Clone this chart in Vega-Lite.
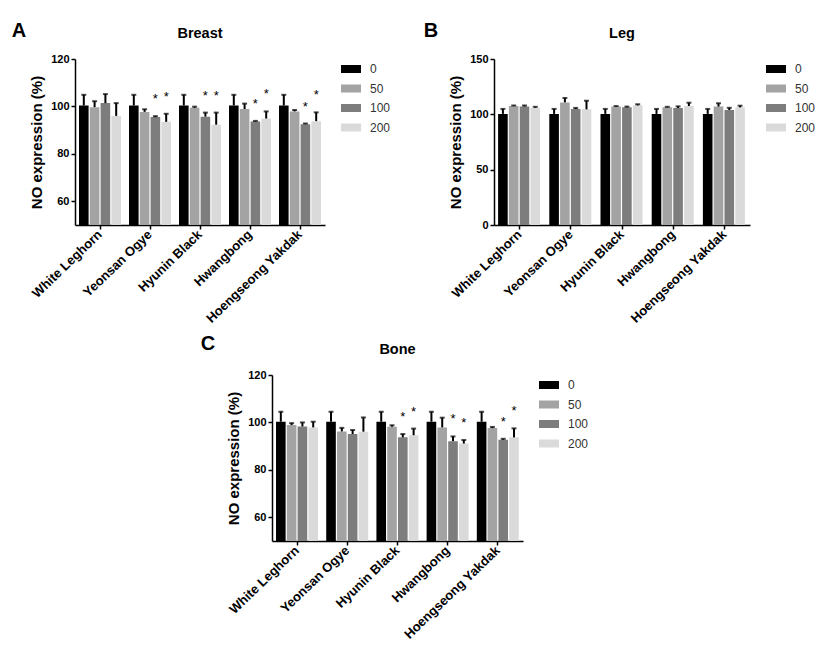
{
  "$schema": "https://vega.github.io/schema/vega-lite/v6.json",
  "padding": {"left": 11, "top": 20, "right": 5, "bottom": 5},
  "datasets": {
    "d": [
      {"panel": "Breast", "breed": "White Leghorn", "conc": "0", "value": 100.4, "err": 4.5, "star": 0},
      {"panel": "Breast", "breed": "White Leghorn", "conc": "50", "value": 99.7, "err": 2.5, "star": 0},
      {"panel": "Breast", "breed": "White Leghorn", "conc": "100", "value": 101.4, "err": 3.8, "star": 0},
      {"panel": "Breast", "breed": "White Leghorn", "conc": "200", "value": 96.0, "err": 5.4, "star": 0},
      {"panel": "Breast", "breed": "Yeonsan Ogye", "conc": "0", "value": 100.4, "err": 4.5, "star": 0},
      {"panel": "Breast", "breed": "Yeonsan Ogye", "conc": "50", "value": 97.7, "err": 1.1, "star": 0},
      {"panel": "Breast", "breed": "Yeonsan Ogye", "conc": "100", "value": 95.5, "err": 0.4, "star": 1},
      {"panel": "Breast", "breed": "Yeonsan Ogye", "conc": "200", "value": 93.5, "err": 3.4, "star": 1},
      {"panel": "Breast", "breed": "Hyunin Black", "conc": "0", "value": 100.4, "err": 4.5, "star": 0},
      {"panel": "Breast", "breed": "Hyunin Black", "conc": "50", "value": 99.4, "err": 0.5, "star": 0},
      {"panel": "Breast", "breed": "Hyunin Black", "conc": "100", "value": 95.7, "err": 1.7, "star": 1},
      {"panel": "Breast", "breed": "Hyunin Black", "conc": "200", "value": 92.3, "err": 5.1, "star": 1},
      {"panel": "Breast", "breed": "Hwangbong", "conc": "0", "value": 100.4, "err": 4.5, "star": 0},
      {"panel": "Breast", "breed": "Hwangbong", "conc": "50", "value": 98.9, "err": 2.3, "star": 0},
      {"panel": "Breast", "breed": "Hwangbong", "conc": "100", "value": 93.6, "err": 0.3, "star": 1},
      {"panel": "Breast", "breed": "Hwangbong", "conc": "200", "value": 94.9, "err": 3.0, "star": 1},
      {"panel": "Breast", "breed": "Hoengseong Yakdak", "conc": "0", "value": 100.4, "err": 4.5, "star": 0},
      {"panel": "Breast", "breed": "Hoengseong Yakdak", "conc": "50", "value": 97.9, "err": 0.6, "star": 0},
      {"panel": "Breast", "breed": "Hoengseong Yakdak", "conc": "100", "value": 92.5, "err": 0.3, "star": 1},
      {"panel": "Breast", "breed": "Hoengseong Yakdak", "conc": "200", "value": 93.8, "err": 3.7, "star": 1},
      {"panel": "Leg", "breed": "White Leghorn", "conc": "0", "value": 100.4, "err": 4.5, "star": 0},
      {"panel": "Leg", "breed": "White Leghorn", "conc": "50", "value": 107.5, "err": 0.5, "star": 0},
      {"panel": "Leg", "breed": "White Leghorn", "conc": "100", "value": 107.0, "err": 1.0, "star": 0},
      {"panel": "Leg", "breed": "White Leghorn", "conc": "200", "value": 106.0, "err": 0.8, "star": 0},
      {"panel": "Leg", "breed": "Yeonsan Ogye", "conc": "0", "value": 100.4, "err": 4.5, "star": 0},
      {"panel": "Leg", "breed": "Yeonsan Ogye", "conc": "50", "value": 110.8, "err": 4.0, "star": 0},
      {"panel": "Leg", "breed": "Yeonsan Ogye", "conc": "100", "value": 104.8, "err": 1.0, "star": 0},
      {"panel": "Leg", "breed": "Yeonsan Ogye", "conc": "200", "value": 104.5, "err": 7.8, "star": 0},
      {"panel": "Leg", "breed": "Hyunin Black", "conc": "0", "value": 100.4, "err": 4.5, "star": 0},
      {"panel": "Leg", "breed": "Hyunin Black", "conc": "50", "value": 107.0, "err": 0.5, "star": 0},
      {"panel": "Leg", "breed": "Hyunin Black", "conc": "100", "value": 106.3, "err": 0.7, "star": 0},
      {"panel": "Leg", "breed": "Hyunin Black", "conc": "200", "value": 108.1, "err": 1.0, "star": 0},
      {"panel": "Leg", "breed": "Hwangbong", "conc": "0", "value": 100.4, "err": 4.5, "star": 0},
      {"panel": "Leg", "breed": "Hwangbong", "conc": "50", "value": 106.3, "err": 0.5, "star": 0},
      {"panel": "Leg", "breed": "Hwangbong", "conc": "100", "value": 105.7, "err": 1.5, "star": 0},
      {"panel": "Leg", "breed": "Hwangbong", "conc": "200", "value": 107.5, "err": 3.0, "star": 0},
      {"panel": "Leg", "breed": "Hoengseong Yakdak", "conc": "0", "value": 100.4, "err": 4.5, "star": 0},
      {"panel": "Leg", "breed": "Hoengseong Yakdak", "conc": "50", "value": 107.0, "err": 3.0, "star": 0},
      {"panel": "Leg", "breed": "Hoengseong Yakdak", "conc": "100", "value": 103.9, "err": 2.0, "star": 0},
      {"panel": "Leg", "breed": "Hoengseong Yakdak", "conc": "200", "value": 106.3, "err": 1.5, "star": 0},
      {"panel": "Bone", "breed": "White Leghorn", "conc": "0", "value": 100.3, "err": 4.2, "star": 0},
      {"panel": "Bone", "breed": "White Leghorn", "conc": "50", "value": 98.9, "err": 0.8, "star": 0},
      {"panel": "Bone", "breed": "White Leghorn", "conc": "100", "value": 98.3, "err": 1.7, "star": 0},
      {"panel": "Bone", "breed": "White Leghorn", "conc": "200", "value": 97.9, "err": 2.4, "star": 0},
      {"panel": "Bone", "breed": "Yeonsan Ogye", "conc": "0", "value": 100.3, "err": 4.2, "star": 0},
      {"panel": "Bone", "breed": "Yeonsan Ogye", "conc": "50", "value": 96.2, "err": 1.5, "star": 0},
      {"panel": "Bone", "breed": "Yeonsan Ogye", "conc": "100", "value": 95.1, "err": 1.7, "star": 0},
      {"panel": "Bone", "breed": "Yeonsan Ogye", "conc": "200", "value": 96.1, "err": 6.0, "star": 0},
      {"panel": "Bone", "breed": "Hyunin Black", "conc": "0", "value": 100.3, "err": 4.2, "star": 0},
      {"panel": "Bone", "breed": "Hyunin Black", "conc": "50", "value": 98.2, "err": 0.6, "star": 0},
      {"panel": "Bone", "breed": "Hyunin Black", "conc": "100", "value": 93.7, "err": 1.4, "star": 1},
      {"panel": "Bone", "breed": "Hyunin Black", "conc": "200", "value": 94.6, "err": 2.8, "star": 1},
      {"panel": "Bone", "breed": "Hwangbong", "conc": "0", "value": 100.3, "err": 4.2, "star": 0},
      {"panel": "Bone", "breed": "Hwangbong", "conc": "50", "value": 97.9, "err": 4.1, "star": 0},
      {"panel": "Bone", "breed": "Hwangbong", "conc": "100", "value": 92.1, "err": 2.0, "star": 1},
      {"panel": "Bone", "breed": "Hwangbong", "conc": "200", "value": 91.1, "err": 1.5, "star": 1},
      {"panel": "Bone", "breed": "Hoengseong Yakdak", "conc": "0", "value": 100.3, "err": 4.2, "star": 0},
      {"panel": "Bone", "breed": "Hoengseong Yakdak", "conc": "50", "value": 97.6, "err": 0.5, "star": 0},
      {"panel": "Bone", "breed": "Hoengseong Yakdak", "conc": "100", "value": 92.7, "err": 0.4, "star": 1},
      {"panel": "Bone", "breed": "Hoengseong Yakdak", "conc": "200", "value": 93.7, "err": 3.8, "star": 1}
    ]
  },
  "spacing": 7,
  "resolve": {"scale": {"color": "independent"}, "legend": {"color": "independent"}},
  "vconcat": [
    {
      "spacing": 32,
      "resolve": {"scale": {"color": "independent"}, "legend": {"color": "independent"}},
      "hconcat": [
        {
          "title": {"text": "A", "anchor": "start", "fontSize": 20, "fontWeight": "bold", "offset": -15, "dx": -18},
          "resolve": {"scale": {"color": "independent"}, "legend": {"color": "independent"}},
          "vconcat": [
            {
              "data": {"name": "d"},
              "title": {"text": "Breast", "frame": "group", "fontSize": 14.5, "fontWeight": "bold", "offset": 12},
              "width": 250, "height": 166,
              "transform": [{"filter": "datum.panel == 'Breast'"}, {"calculate": "datum.value + datum.err", "as": "hi"}],
              "encoding": {
                "x": {"field": "breed", "type": "nominal", "sort": ["White Leghorn", "Yeonsan Ogye", "Hyunin Black", "Hwangbong", "Hoengseong Yakdak"], "scale": {"paddingInner": 0.16, "paddingOuter": 0.08}, "axis": {"title": null}},
                "xOffset": {"field": "conc", "type": "nominal", "sort": ["0", "50", "100", "200"], "scale": {"paddingInner": 0.11}}
              },
              "layer": [
                {"mark": {"type": "bar", "clip": true},
                 "encoding": {
                   "y": {"field": "value", "type": "quantitative", "scale": {"domain": [50, 120], "nice": false}, "axis": {"values": [60, 80, 100, 120], "title": "NO expression (%)"}},
                   "color": {"field": "conc", "type": "nominal", "sort": ["0", "50", "100", "200"], "scale": {"domain": ["0", "50", "100", "200"], "range": ["#000000", "#a3a3a3", "#7d7d7d", "#dadada"]}, "legend": {"title": null}}
                 }},
                {"mark": {"type": "rule", "strokeWidth": 2, "color": "#000"}, "encoding": {"y": {"field": "value", "type": "quantitative"}, "y2": {"field": "hi"}}},
                {"mark": {"type": "tick", "thickness": 2, "size": 5, "color": "#000"}, "encoding": {"y": {"field": "hi", "type": "quantitative"}}},
                {"transform": [{"filter": "datum.star == 1"}], "mark": {"type": "text", "text": "*", "dy": -17, "fontSize": 13, "color": "#000"}, "encoding": {"y": {"field": "hi", "type": "quantitative"}}}
              ]
            }
          ]
        },
        {
          "title": {"text": "B", "anchor": "start", "fontSize": 20, "fontWeight": "bold", "offset": -15, "dx": -25},
          "resolve": {"scale": {"color": "independent"}, "legend": {"color": "independent"}},
          "vconcat": [
            {
              "data": {"name": "d"},
              "title": {"text": "Leg", "frame": "group", "fontSize": 14.5, "fontWeight": "bold", "offset": 12},
              "width": 256, "height": 166,
              "transform": [{"filter": "datum.panel == 'Leg'"}, {"calculate": "datum.value + datum.err", "as": "hi"}],
              "encoding": {
                "x": {"field": "breed", "type": "nominal", "sort": ["White Leghorn", "Yeonsan Ogye", "Hyunin Black", "Hwangbong", "Hoengseong Yakdak"], "scale": {"paddingInner": 0.16, "paddingOuter": 0.08}, "axis": {"title": null}},
                "xOffset": {"field": "conc", "type": "nominal", "sort": ["0", "50", "100", "200"], "scale": {"paddingInner": 0.11}}
              },
              "layer": [
                {"mark": {"type": "bar", "clip": true},
                 "encoding": {
                   "y": {"field": "value", "type": "quantitative", "scale": {"domain": [0, 150], "nice": false}, "axis": {"values": [0, 50, 100, 150], "title": "NO expression (%)"}},
                   "color": {"field": "conc", "type": "nominal", "sort": ["0", "50", "100", "200"], "scale": {"domain": ["0", "50", "100", "200"], "range": ["#000000", "#a3a3a3", "#7d7d7d", "#dadada"]}, "legend": {"title": null}}
                 }},
                {"mark": {"type": "rule", "strokeWidth": 2, "color": "#000"}, "encoding": {"y": {"field": "value", "type": "quantitative"}, "y2": {"field": "hi"}}},
                {"mark": {"type": "tick", "thickness": 2, "size": 5, "color": "#000"}, "encoding": {"y": {"field": "hi", "type": "quantitative"}}}
              ]
            }
          ]
        }
      ]
    },
    {
      "spacing": 0,
      "resolve": {"scale": {"color": "independent"}, "legend": {"color": "independent"}},
      "hconcat": [
        {
          "data": {"values": [{}]},
          "width": 125, "height": 1,
          "mark": {"type": "point", "opacity": 0},
          "encoding": {}
        },
        {
          "title": {"text": "C", "anchor": "start", "fontSize": 20, "fontWeight": "bold", "offset": -12, "dx": -26},
          "resolve": {"scale": {"color": "independent"}, "legend": {"color": "independent"}},
          "vconcat": [
            {
              "data": {"name": "d"},
              "title": {"text": "Bone", "frame": "group", "fontSize": 14.5, "fontWeight": "bold", "offset": 12},
              "width": 251, "height": 166,
              "transform": [{"filter": "datum.panel == 'Bone'"}, {"calculate": "datum.value + datum.err", "as": "hi"}],
              "encoding": {
                "x": {"field": "breed", "type": "nominal", "sort": ["White Leghorn", "Yeonsan Ogye", "Hyunin Black", "Hwangbong", "Hoengseong Yakdak"], "scale": {"paddingInner": 0.16, "paddingOuter": 0.08}, "axis": {"title": null}},
                "xOffset": {"field": "conc", "type": "nominal", "sort": ["0", "50", "100", "200"], "scale": {"paddingInner": 0.11}}
              },
              "layer": [
                {"mark": {"type": "bar", "clip": true},
                 "encoding": {
                   "y": {"field": "value", "type": "quantitative", "scale": {"domain": [50, 120], "nice": false}, "axis": {"values": [60, 80, 100, 120], "title": "NO expression (%)"}},
                   "color": {"field": "conc", "type": "nominal", "sort": ["0", "50", "100", "200"], "scale": {"domain": ["0", "50", "100", "200"], "range": ["#000000", "#a3a3a3", "#7d7d7d", "#dadada"]}, "legend": {"title": null}}
                 }},
                {"mark": {"type": "rule", "strokeWidth": 2, "color": "#000"}, "encoding": {"y": {"field": "value", "type": "quantitative"}, "y2": {"field": "hi"}}},
                {"mark": {"type": "tick", "thickness": 2, "size": 5, "color": "#000"}, "encoding": {"y": {"field": "hi", "type": "quantitative"}}},
                {"transform": [{"filter": "datum.star == 1"}], "mark": {"type": "text", "text": "*", "dy": -17, "fontSize": 13, "color": "#000"}, "encoding": {"y": {"field": "hi", "type": "quantitative"}}}
              ]
            }
          ]
        }
      ]
    }
  ],
  "config": {
    "font": "Liberation Sans",
    "background": "#ffffff",
    "view": {"stroke": null},
    "axis": {"domainColor": "#000", "domainWidth": 1.5, "tickColor": "#000", "tickWidth": 1.5, "tickSize": 4, "labelColor": "#000", "labelFontWeight": "bold", "titleFontWeight": "bold", "titleColor": "#000", "grid": false},
    "axisY": {"labelFontSize": 11, "titleFontSize": 15, "titlePadding": 6, "labelPadding": 2},
    "axisX": {"labelFontSize": 13, "labelAngle": -44, "labelAlign": "right", "labelBaseline": "middle", "labelPadding": 3},
    "legend": {"symbolType": "M-1,-0.4H1V0.4H-1Z", "symbolSize": 400, "symbolStrokeWidth": 0, "labelFontSize": 12, "labelColor": "#333", "rowPadding": 3.5, "offset": 16, "labelOffset": 9},
    "title": {"color": "#000"}
  }
}
